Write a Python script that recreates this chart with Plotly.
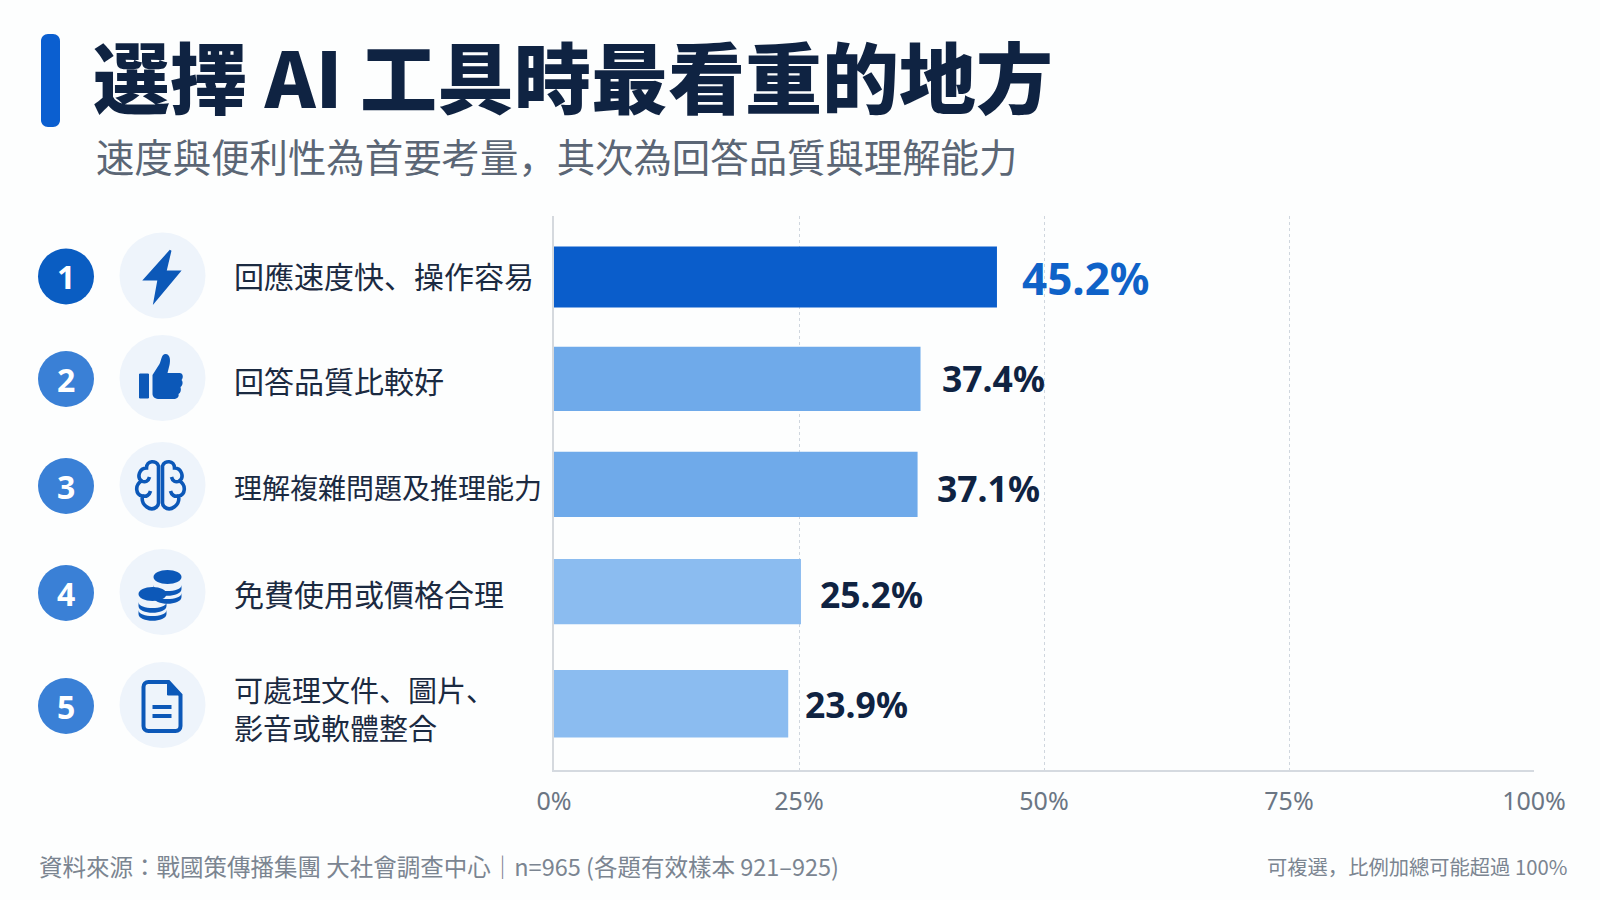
import plotly.graph_objects as go

# chart data
categories = ["回應速度快、操作容易", "回答品質比較好", "理解複雜問題及推理能力", "免費使用或價格合理", "可處理文件、圖片、<br>影音或軟體整合"]
values = [45.2, 37.4, 37.1, 25.2, 23.9]
ranks = ["1", "2", "3", "4", "5"]
tick_vals = [0, 25, 50, 75, 100]
tick_text = ["0%", "25%", "50%", "75%", "100%"]

title = "選擇 AI 工具時最看重的地方"
subtitle = "速度與便利性為首要考量，其次為回答品質與理解能力"
source = "資料來源：戰國策傳播集團 大社會調查中心｜n=965 (各題有效樣本 921–925)"
note = "可複選，比例加總可能超過 100%"

# styling per row
bar_colors = ["#0a5dcb", "#6faaea", "#6faaea", "#8bbcf0", "#8bbcf0"]
bar_widths = [0.57, 0.60, 0.61, 0.61, 0.63]
bar_offsets = [-0.275, -0.337, -0.355, -0.352, -0.315]
badge_colors = ["#0a5dc2", "#3a80d6", "#3a80d6", "#3a80d6", "#3a80d6"]
row_y = [276.5, 379, 486, 593, 706]
label_y = [274.5, 379.5, 487, 593, 708]
label_sizes = [30, 30, 28, 30, 29]
value_shift = [-2, 5, 2, 3, 0]
value_gap = [23, 19, 17, 17, 15]

ICON = "#0c58b8"
CJK = "Noto Sans CJK JP"
W, H = 1600, 900

shapes = []
annotations = []


def px_text(x, y, text, size, color, anchor="left", family=CJK, weight=None):
    annotations.append(dict(xref="x2", yref="y2", x=x, y=y, text=text, showarrow=False,
                            xanchor=anchor, yanchor="middle", align="left",
                            font=dict(family=family, size=size, color=color, weight=weight)))


def circle(cx, cy, r, color):
    shapes.append(dict(type="circle", xref="x2", yref="y2", x0=cx - r, x1=cx + r, y0=cy - r, y1=cy + r,
                       fillcolor=color, line=dict(width=0)))


def icon_path(path, cx, cy, fill=ICON, line=None, width=0):
    # path written around (0,0), numbers get moved to the icon centre
    out = []
    is_x = True
    for tok in path.split():
        if tok[0].isalpha():
            out.append(tok)
            is_x = True
        else:
            out.append(str(float(tok) + (cx if is_x else cy)))
            is_x = not is_x
    shapes.append(dict(type="path", xref="x2", yref="y2", path=" ".join(out), fillcolor=fill,
                       line=dict(color=line or fill, width=width)))


def disc(x, y, rx, ry):
    k = 0.55
    return (f"M {x-rx} {y} C {x-rx} {y-k*ry} {x-k*rx} {y-ry} {x} {y-ry} C {x+k*rx} {y-ry} {x+rx} {y-k*ry} {x+rx} {y} "
            f"C {x+rx} {y+k*ry} {x+k*rx} {y+ry} {x} {y+ry} C {x-k*rx} {y+ry} {x-rx} {y+k*ry} {x-rx} {y} Z")


def coin_stack(x, y, n, cx, cy):
    # bottom coin first, each one is a thick band with a gap to the next
    for i in range(n - 1, 0, -1):
        yy = y + i * 8
        band = (f"M {x-14} {yy} L {x-14} {yy+4} C {x-14} {yy+13} {x+14} {yy+13} {x+14} {yy+4} L {x+14} {yy} "
                f"C {x+14} {yy+8} {x-14} {yy+8} {x-14} {yy} Z")
        icon_path(band, cx, cy)
    icon_path(disc(x, y, 14, 7), cx, cy)


def draw_bolt(cx, cy):
    icon_path("M 8 -25 L -18 4 L -4 4 L -8 26 L 17 -4 L 3 -4 Z", cx, cy, line=ICON, width=2)


def draw_thumb(cx, cy):
    icon_path("M -23 -4 L -14 -4 L -14 20 L -23 20 Z", cx, cy, line=ICON, width=1)
    icon_path("M -10 -3 L -3 -14 C -1 -18 -1 -24 3 -24 C 8 -24 8 -17 7 -13 L 5 -5 L 17 -5 C 21 -5 21 0 19 2 "
              "C 21 4 20 8 18 9 C 19 12 18 15 16 16 C 17 19 14 21 11 21 L -3 21 C -7 21 -10 19 -10 16 Z", cx, cy)


def draw_brain(cx, cy):
    cx -= 2
    stroke = dict(fill="rgba(0,0,0,0)", line=ICON, width=3.6)
    for s in (1, -1):
        lobe = (f"M {s*2} -19 C {s*4} -25 {s*14} -25 {s*14} -17 C {s*21} -17 {s*24} -8 {s*19} -4 "
                f"C {s*26} 0 {s*25} 10 {s*18} 11 C {s*20} 20 {s*10} 27 {s*4} 22 C {s*3} 21 {s*2} 20 {s*2} 18 Z")
        icon_path(lobe, cx, cy, **stroke)
        icon_path(f"M {s*19} -4 C {s*15} -2 {s*12} -4 {s*11} -8", cx, cy, **stroke)
        icon_path(f"M {s*18} 11 C {s*14} 12 {s*11} 10 {s*10} 6", cx, cy, **stroke)


def draw_coins(cx, cy):
    coin_stack(5, -15, 3, cx, cy)
    coin_stack(-10, 2, 3, cx, cy)


def draw_doc(cx, cy):
    icon_path("M -14 -23 L 6 -23 L 18 -10 L 18 21 C 18 24 16 26 13 26 L -14 26 C -17 26 -19 24 -19 21 L -19 -18 "
              "C -19 -21 -17 -23 -14 -23 Z", cx, cy, fill="rgba(0,0,0,0)", line=ICON, width=4)
    icon_path("M 5 -23 L 5 -10 L 18 -10 Z", cx, cy, line=ICON, width=1)
    icon_path("M -10 2 L 9 2", cx, cy, fill="rgba(0,0,0,0)", line=ICON, width=4)
    icon_path("M -10 11 L 9 11", cx, cy, fill="rgba(0,0,0,0)", line=ICON, width=4)


icons = [draw_bolt, draw_thumb, draw_brain, draw_coins, draw_doc]

fig = go.Figure()
fig.add_trace(go.Bar(x=values, y=categories, orientation="h", marker=dict(color=bar_colors, line=dict(width=0)),
                     width=bar_widths, offset=bar_offsets, hoverinfo="x+y"))

# header
icon_path("M 41 41 C 41 37 44 34 48 34 L 53 34 C 57 34 60 37 60 41 L 60 120 C 60 124 57 127 53 127 "
          "L 48 127 C 44 127 41 124 41 120 Z", 0, 0, fill="#0b5fd0")
px_text(91, 74, title, 77, "#0f2342", weight=900)
px_text(94, 155, subtitle, 38.4, "#5b6675")

# rows
for i, cat in enumerate(categories):
    y = row_y[i]
    circle(66, y, 28, badge_colors[i])
    px_text(66, y, ranks[i], 32, "#ffffff", anchor="center", family="Noto Sans", weight=700)
    circle(162.5, y - 1, 43, "#eef4fb")
    icons[i](162.5, y - 1)
    px_text(232, label_y[i], cat, label_sizes[i], "#1b2a41")
    first = i == 0
    annotations.append(dict(xref="x", yref="y", x=values[i], y=cat, text=f"{values[i]}%", showarrow=False,
                            xanchor="left", yanchor="middle", xshift=value_gap[i], yshift=value_shift[i],
                            font=dict(family="Noto Sans", size=44 if first else 35.5, weight=700,
                                      color="#0f62c8" if first else "#0f2342")))

# footer
px_text(37, 866, source, 23.5, "#7b8591")
px_text(1569, 866, note, 20.3, "#7b8591", anchor="right")

fig.update_layout(
    width=W, height=H, autosize=False, showlegend=False,
    margin=dict(l=0, r=0, t=0, b=0),
    paper_bgcolor="#fdfefe", plot_bgcolor="rgba(0,0,0,0)",
    shapes=shapes, annotations=annotations,
    xaxis=dict(domain=[554 / W, 1534 / W], range=[0, 100], tickvals=tick_vals, ticktext=tick_text,
               tickfont=dict(family="Noto Sans", size=25, color="#6b7684"), ticks="outside",
               ticklen=8, tickcolor="rgba(0,0,0,0)", showgrid=True, gridcolor="#cfd6de",
               griddash="dot", gridwidth=1, zeroline=False, showline=True, linecolor="#d5dae0", linewidth=2,
               anchor="y", fixedrange=True, automargin=False),
    yaxis=dict(domain=[1 - 770 / H, 1 - 216 / H], type="category", categoryorder="array", categoryarray=categories,
               range=[4.62, -0.56], showticklabels=False, ticks="", showgrid=False, zeroline=False,
               showline=True, linecolor="#d5d9de", linewidth=2, anchor="x", fixedrange=True, automargin=False),
    # full page overlay axes, used for the header, icons and footer
    xaxis2=dict(domain=[0, 1], range=[0, W], visible=False, anchor="y2", fixedrange=True, automargin=False),
    yaxis2=dict(domain=[0, 1], range=[H, 0], visible=False, anchor="x2", fixedrange=True, automargin=False),
)

fig.write_html("out.html", post_script="document.body.style.margin='0';", config={"displayModeBar": False})
